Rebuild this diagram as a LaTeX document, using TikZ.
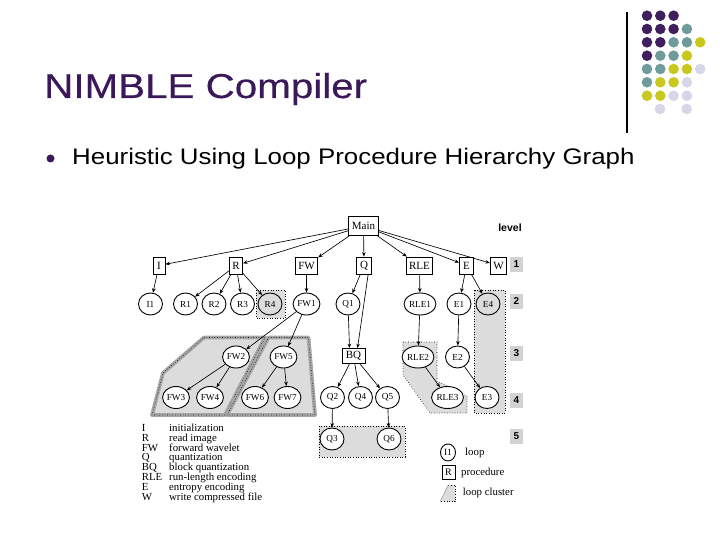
\documentclass[tikz,border=0pt]{standalone}
\usepackage{fontspec}
\setmainfont{Liberation Serif}
\newfontfamily\arialf{Liberation Sans}
\newfontfamily\arialttl[FakeBold=0.35]{Liberation Sans}
\usetikzlibrary{arrows.meta,shapes.geometric}
\definecolor{ttl}{HTML}{3A185A}
\definecolor{dpur}{HTML}{3F1F5E}
\definecolor{dteal}{HTML}{6F9B9B}
\definecolor{dyel}{HTML}{C9C81E}
\definecolor{dlav}{HTML}{D6D6E8}
\definecolor{cl}{HTML}{DCDCDC}
\definecolor{bd}{HTML}{A6A6A6}
\definecolor{lv}{HTML}{D2D2D2}
\begin{document}
\begin{tikzpicture}[x=1pt,y=-1pt,
  proc/.style={draw, fill=white, line width=0.8pt, minimum height=17pt, minimum width=12pt, inner xsep=3pt, inner ysep=1pt, font=\fontsize{11}{12}\selectfont},
  lp/.style={ellipse, draw, fill=white, line width=0.9pt, minimum width=24pt, minimum height=22pt, inner sep=0.3pt, font=\fontsize{9.2}{10}\selectfont},
  arr/.style={-{Stealth[length=4.5pt,width=3.6pt]}, line width=0.65pt},
  clus/.style={fill=cl, draw=black, dotted, line width=0.6pt},
  band/.style={fill=cl, draw=bd, line width=3.8pt, line join=round},
  dotl/.style={draw=black, dotted, line width=0.6pt},
  lvl/.style={fill=lv, minimum width=13pt, minimum height=15pt, inner sep=0pt, font=\arialf\bfseries\fontsize{10}{12}\selectfont},
  leg/.style={anchor=base west, inner sep=0pt, font=\fontsize{10.8}{12}\selectfont},
  dot/.style={circle, inner sep=0pt, minimum size=10.6pt}
]
\useasboundingbox (0,0) rectangle (720,540);

% ---- slide header ----
\node[anchor=base west, inner sep=0pt, text=ttl, font=\arialttl\fontsize{34.5}{40}\selectfont] (title) at (44,98) {\scalebox{1.17}[1]{NIMBLE Compiler}};
\node[circle, fill=ttl, inner sep=0pt, minimum size=8pt] (bul) at (50.5,158.5) {};
\node[anchor=base west, inner sep=0pt, font=\arialf\fontsize{22.5}{26}\selectfont] (body) at (72,165) {\scalebox{1.15}[1]{Heuristic Using Loop Procedure Hierarchy Graph}};

% ---- decoration ----
\coordinate (vt) at (627,12);
\coordinate (vb) at (627,133);
\draw[line width=1.2pt] (vt) -- (vb);
\foreach \c [count=\i] in {dpur,dpur,dpur}{\node[dot, fill=\c] (d1\i) at ({633.7+13.3*\i},15.7) {};}
\foreach \c [count=\i] in {dpur,dpur,dpur,dteal}{\node[dot, fill=\c] (d2\i) at ({633.7+13.3*\i},29) {};}
\foreach \c [count=\i] in {dpur,dpur,dteal,dteal,dyel}{\node[dot, fill=\c] (d3\i) at ({633.7+13.3*\i},42.3) {};}
\foreach \c [count=\i] in {dpur,dteal,dteal,dyel}{\node[dot, fill=\c] (d4\i) at ({633.7+13.3*\i},55.7) {};}
\foreach \c [count=\i] in {dteal,dteal,dyel,dyel,dlav}{\node[dot, fill=\c] (d5\i) at ({633.7+13.3*\i},69) {};}
\foreach \c [count=\i] in {dteal,dyel,dyel,dlav}{\node[dot, fill=\c] (d6\i) at ({633.7+13.3*\i},82.3) {};}
\foreach \c [count=\i] in {dyel,dyel,dlav,dlav}{\node[dot, fill=\c] (d7\i) at ({633.7+13.3*\i},95.7) {};}
\node[dot, fill=dlav] (d82) at (660,109) {};
\node[dot, fill=dlav] (d84) at (686.7,109) {};

% ---- clusters ----
\path[band] (204,337.5) -- (265,337.5) -- (225,415) -- (152,415) -- (163,373) -- cycle;
\path[dotl] (204,337.5) -- (265,337.5) -- (225,415) -- (152,415) -- (163,373) -- cycle;
\path[band] (268.5,337.5) -- (308.5,337.5) -- (315,415) -- (227,415) -- cycle;
\path[dotl] (268.5,337.5) -- (308.5,337.5) -- (315,415) -- (227,415) -- cycle;
\path[clus] (256,290) rectangle (285,318);
\path[clus] (474,290) rectangle (505,413);
\path[clus] (403,342) -- (437,342) -- (437,381) -- (467,396) -- (467,413) -- (430,413) -- (403,375) -- cycle;
\path[clus] (319,426) rectangle (405,457);

% ---- nodes ----
\node[proc, minimum width=29pt, minimum height=19pt] (Main) at (363.5,226) {Main};
\node[proc] (I) at (159,265.5) {I};
\node[proc] (R) at (236,265.5) {R};
\node[proc] (FW) at (306.5,265.5) {FW};
\node[proc, minimum width=15pt] (Q) at (364,265.5) {Q};
\node[proc] (RLE) at (419.5,265.5) {RLE};
\node[proc, minimum width=14pt] (E) at (466.5,265.5) {E};
\node[proc] (W) at (498.5,265.5) {W};

\node[lp] (I1) at (150.5,304) {I1};
\node[lp] (R1) at (185.5,304) {R1};
\node[lp] (R2) at (214,304) {R2};
\node[lp] (R3) at (242.5,304) {R3};
\node[lp, fill=cl] (R4) at (270,304) {R4};
\node[lp] (FW1) at (306.5,304) {FW1};
\node[lp] (Q1) at (348,304) {Q1};
\node[lp] (RLE1) at (420,304) {RLE1};
\node[lp] (E1) at (459,304) {E1};
\node[lp, fill=cl] (E4) at (488,304) {E4};

\node[lp] (FW2) at (236,357) {FW2};
\node[lp] (FW5) at (283.5,357) {FW5};
\node[proc, minimum width=23pt, minimum height=15pt] (BQ) at (353.5,356) {BQ};
\node[lp] (RLE2) at (418,357) {RLE2};
\node[lp] (E2) at (457.5,357) {E2};

\node[lp] (FW3) at (176,397.5) {FW3};
\node[lp] (FW4) at (210,397.5) {FW4};
\node[lp] (FW6) at (255,397.5) {FW6};
\node[lp] (FW7) at (287.5,397.5) {FW7};
\node[lp] (Q2) at (332.5,397.5) {Q2};
\node[lp] (Q4) at (360.5,397.5) {Q4};
\node[lp] (Q5) at (387.5,397.5) {Q5};
\node[lp] (RLE3) at (447.5,397.5) {RLE3};
\node[lp] (E3) at (487,397.5) {E3};

\node[lp] (Q3) at (332,439) {Q3};
\node[lp] (Q6) at (389,439) {Q6};

% ---- edges ----
\foreach \t in {I,R,FW,Q,RLE,E,W} \draw[arr] (Main) -- (\t);
\draw[arr] (I) -- (I1);
\foreach \t in {R1,R2,R3,R4} \draw[arr] (R) -- (\t);
\draw[arr] (FW) -- (FW1);
\draw[arr] (Q) -- (Q1);
\draw[arr] (Q.-65) -- ([xshift=4pt]BQ.north);
\draw[arr] (RLE) -- (RLE1);
\draw[arr] (E) -- (E1);
\draw[arr] (E) -- (E4);
\draw[arr] (FW1) -- (FW2);
\draw[arr] (FW1) -- (FW5);
\draw[arr] (Q1) -- ([xshift=-4pt]BQ.north);
\draw[arr] (RLE1) -- (RLE2);
\draw[arr] (E1) -- (E2);
\draw[arr] (FW2) -- (FW3);
\draw[arr] (FW2) -- (FW4);
\draw[arr] (FW5) -- (FW6);
\draw[arr] (FW5) -- (FW7);
\foreach \t in {Q2,Q4,Q5} \draw[arr] (BQ) -- (\t);
\draw[arr] (RLE2) -- (RLE3);
\draw[arr] (E2) -- (E3);
\draw[arr] (Q2) -- (Q3);
\draw[arr] (Q5) -- (Q6);

% ---- levels ----
\node[inner sep=0pt, font=\arialf\bfseries\fontsize{10.5}{12}\selectfont] (lvtxt) at (510,228) {level};
\node[lvl] (L1) at (516.5,264) {1};
\node[lvl] (L2) at (516.5,301.5) {2};
\node[lvl] (L3) at (516.5,353) {3};
\node[lvl] (L4) at (516.5,400.5) {4};
\node[lvl] (L5) at (516.5,436.5) {5};

% ---- legend left ----
\foreach \a/\b [count=\k from 0] in {I/initialization, R/read image, FW/forward wavelet, Q/quantization, BQ/block quantization, RLE/run-length encoding, E/entropy encoding, W/write compressed file}{
  \node[leg] (ka\k) at (141.7,{431.5+9.8*\k}) {\a};
  \node[leg] (kb\k) at (169,{431.5+9.8*\k}) {\b};
}

% ---- legend right ----
\node[lp, minimum width=15pt, minimum height=17pt, font=\fontsize{9.5}{10}\selectfont] (lgI1) at (448,452.5) {I1};
\node[leg] (lgloop) at (465,455.5) {loop};
\node[proc, minimum width=13pt, minimum height=14pt, font=\fontsize{10}{12}\selectfont] (lgR) at (448.5,472) {R};
\node[leg] (lgproc) at (461,475.5) {procedure};
\path[fill=cl] (440,501.7) -- (455,501.7) -- (455,485) -- (448.3,485) -- cycle;
\draw[dotl] (448.3,485) -- (455,485) -- (455,501.7) -- (440,501.7);
\draw[bd, line width=0.6pt] (440,501.7) -- (448.3,485);
\node[leg] (lgclus) at (462.7,495) {loop cluster};
\end{tikzpicture}
\end{document}
